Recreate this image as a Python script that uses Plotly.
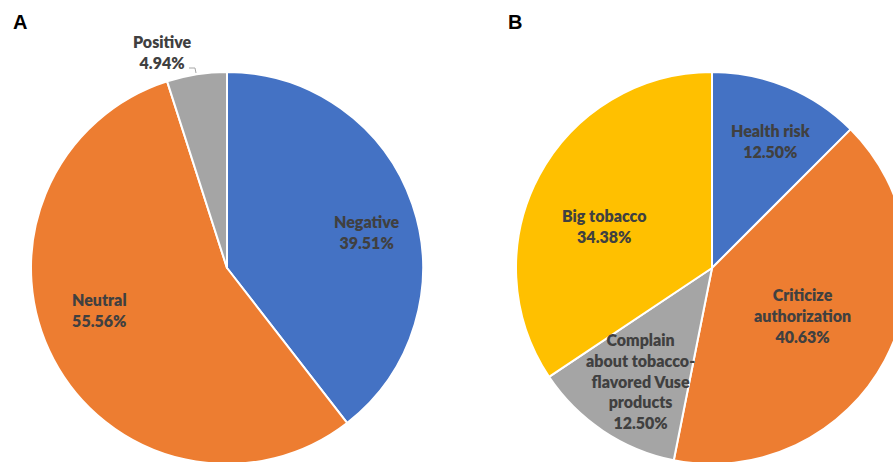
import plotly.graph_objects as go

# Panel A: sentiment
sent_labels = ["Negative", "Neutral", "Positive"]
sent_values = [39.51, 55.56, 4.94]
sent_colors = ["#4472C4", "#ED7D31", "#A5A5A5"]

# Panel B: topics
topic_labels = ["Health risk", "Criticize authorization",
                "Complain about tobacco-flavored Vuse products", "Big tobacco"]
topic_wrapped = ["Health risk", "Criticize<br>authorization",
                 "Complain<br>about tobacco-<br>flavored Vuse<br>products", "Big tobacco"]
topic_values = [12.50, 40.63, 12.50, 34.38]
topic_colors = ["#4472C4", "#ED7D31", "#A5A5A5", "#FFC000"]

W, H = 910, 464


def px(x, y):
    return x / W, 1 - y / H


fig = go.Figure()
fig.add_trace(go.Pie(
    labels=sent_labels, values=sent_values, sort=False, direction="clockwise",
    rotation=0, textinfo="none", hoverinfo="label+value",
    marker=dict(colors=sent_colors, line=dict(color="white", width=2)),
    domain=dict(x=[31 / W, 423 / W], y=[0, 1 - 72 / H]), showlegend=False,
))
fig.add_trace(go.Pie(
    labels=topic_labels, values=topic_values, sort=False, direction="clockwise",
    rotation=0, textinfo="none", hoverinfo="label+value",
    marker=dict(colors=topic_colors, line=dict(color="white", width=2)),
    domain=dict(x=[516 / W, 908 / W], y=[0, 1 - 72 / H]), showlegend=False,
))

label_font = dict(family="Lato", size=16, color="#404040", weight=800)


def add_label(text, x, y):
    ax, ay = px(x, y)
    fig.add_annotation(x=ax, y=ay, xref="paper", yref="paper", text=text,
                       showarrow=False, font=label_font, align="center",
                       xanchor="center", yanchor="middle")


sent_pos = [(367, 232), (99, 310), (162, 52)]
for lab, val, (x, y) in zip(sent_labels, sent_values, sent_pos):
    add_label(f"{lab}<br>{val:.2f}%", x, y)

topic_pos = [(771, 141), (802, 315), (640, 381), (604, 226)]
for lab, val, (x, y) in zip(topic_wrapped, topic_values, topic_pos):
    add_label(f"{lab}<br>{val:.2f}%", x, y)

# leader line for the small "Positive" slice
x0, y0 = px(189, 68)
x1, y1 = px(195, 68)
x2, y2 = px(196, 73)
fig.add_shape(type="path", xref="paper", yref="paper",
              path=f"M {x0} {y0} L {x1} {y1} L {x2} {y2}",
              line=dict(color="#A6A6A6", width=1))

# panel letters
for letter, x in (("A", 20), ("B", 515)):
    lx, ly = px(x, 22)
    fig.add_annotation(x=lx, y=ly, xref="paper", yref="paper", text=f"<b>{letter}</b>",
                       showarrow=False, font=dict(family="Liberation Sans", size=20, color="black"),
                       xanchor="center", yanchor="middle")

fig.update_layout(width=W, height=H, margin=dict(l=0, r=0, t=0, b=0),
                  paper_bgcolor="white", plot_bgcolor="white")

fig.write_html("out.html",
               post_script="document.body.style.overflow='hidden';"
                           "document.documentElement.style.overflow='hidden';")
